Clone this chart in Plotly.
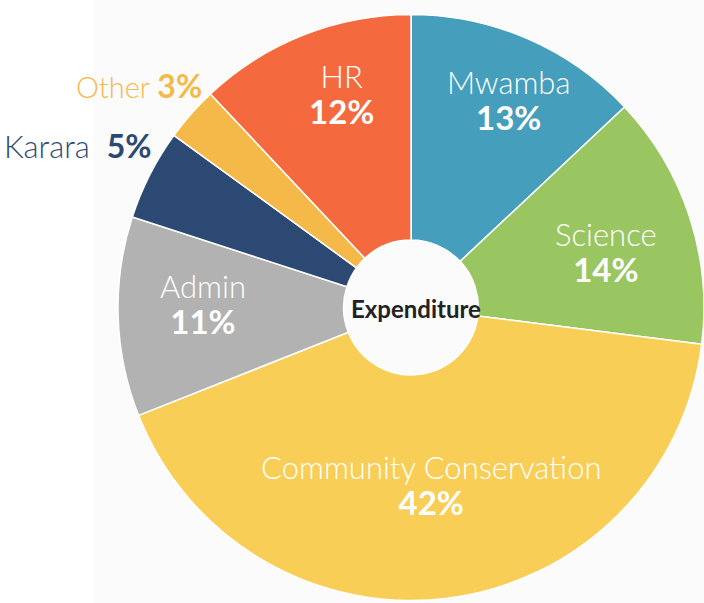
import plotly.graph_objects as go

# ---- data ----
categories = ["Mwamba", "Science", "Community Conservation", "Admin", "Karara", "Other", "HR"]
values = [13, 14, 42, 11, 5, 3, 12]
colors = ["#459EBB", "#9AC661", "#F8CE57", "#B2B2B2", "#2B4973", "#F5B94A", "#F46A3E"]
center_label = "Expenditure"

# label placement (pixel positions of each label block; styling only)
W, H = 704, 603
label_pos = {
    "Mwamba": (508, 100),
    "Science": (606, 252),
    "Community Conservation": (431, 485),
    "Admin": (203, 304),
    "HR": (341, 94),
}
outside_pos = {
    "Other": (204, 85, " ", 29),
    "Karara": (153, 145, "&nbsp; ", 31),
}

fig = go.Figure()
fig.add_trace(go.Pie(
    labels=categories,
    values=values,
    sort=False,
    direction="clockwise",
    rotation=0,
    hole=0.23,
    marker=dict(colors=colors, line=dict(color="white", width=1.5)),
    textinfo="none",
    hoverinfo="label+percent",
    showlegend=False,
    domain=dict(x=[118 / W, 1], y=[0, 1 - 12 / H]),
))

annotations = []
total = sum(values)
for cat, val, col in zip(categories, values, colors):
    pct = f"{round(100 * val / total)}%"
    if cat in label_pos:
        x, y = label_pos[cat]
        annotations.append(dict(
            x=x / W, y=1 - y / H, xref="paper", yref="paper",
            text=f"<span style='font-size:31px'>{cat}</span><br>"
                 f"<b style='font-size:33px'>{pct}</b>",
            showarrow=False,
            font=dict(family="Lato", size=28, color="white", weight=300),
            xanchor="center", yanchor="middle", align="center"))
    elif cat in outside_pos:
        x, y, gap, fs = outside_pos[cat]
        annotations.append(dict(
            x=x / W, y=1 - y / H, xref="paper", yref="paper",
            text=f"{cat}{gap}<b style='font-size:32px'>{pct}</b>",
            showarrow=False,
            font=dict(family="Lato", size=fs, color=col, weight=300),
            xanchor="right", yanchor="middle"))

annotations.append(dict(x=416 / W, y=1 - 308 / H, xref="paper", yref="paper",
                        text=center_label, showarrow=False,
                        font=dict(family="Lato", size=24, color="#222222", weight=700),
                        xanchor="center", yanchor="middle"))

fig.update_layout(
    width=W, height=H,
    margin=dict(l=0, r=0, t=0, b=0),
    paper_bgcolor="white",
    plot_bgcolor="white",
    annotations=annotations,
    shapes=[dict(type="rect", xref="paper", yref="paper", x0=93 / W, x1=1, y0=0, y1=1,
                 fillcolor="#FBFBFB", line=dict(width=0), layer="below")],
)

fig.write_html("out.html", config={"displayModeBar": False},
               post_script="document.body.style.margin='0';document.body.style.overflow='hidden';")
